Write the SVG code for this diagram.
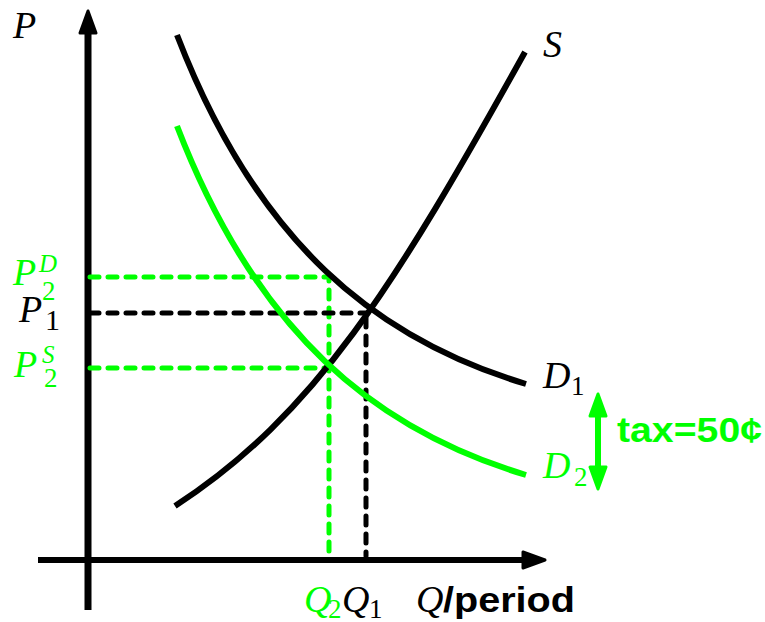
<svg xmlns="http://www.w3.org/2000/svg" width="765" height="622" viewBox="0 0 765 622">
<defs>
<style>
.it{font-family:"Liberation Serif","Times New Roman",serif;font-style:italic;font-size:38px}
.sub{font-family:"Liberation Serif","Times New Roman",serif;font-size:27px}
.supi{font-family:"Liberation Serif","Times New Roman",serif;font-style:italic;font-size:25px}
.bold{font-family:"Liberation Sans",Arial,sans-serif;font-weight:bold;font-size:35px}
.curve{fill:none;stroke-width:6}
.dash{fill:none;stroke-width:5;stroke-dasharray:9 9;stroke-linecap:round}
.head{stroke-width:3;stroke-linejoin:round}
.g{fill:#00ff00}
.k{fill:#000}
</style>
</defs>

<g id="axes">
<line x1="88" y1="610" x2="88" y2="30" stroke="#000" stroke-width="7"/>
<path class="head" d="M88,11 L96,33 L80,33 Z" fill="#000" stroke="#000"/>
<line x1="38" y1="560" x2="528" y2="560" stroke="#000" stroke-width="6"/>
<path class="head" d="M545,560 L523,552 L523,568 Z" fill="#000" stroke="#000"/>
</g>

<g id="guides">
<path class="dash" d="M90,277 H329 V556" stroke="#00ff00"/>
<path class="dash" d="M90,313 H368" stroke="#000"/>
<path class="dash" d="M366,318 V556" stroke="#000"/>
<path class="dash" d="M90,368 H329" stroke="#00ff00"/>
</g>

<g id="curves">
<path id="S" class="curve" stroke="#000" d="M175,506 C315,415 395,286 525,52"/>
<path id="D1" class="curve" stroke="#000" d="M177,35 C257,243 376,339 526,384"/>
<path id="D2" class="curve" stroke="#00ff00" d="M177,126 C257,334 376,430 526,475"/>
</g>

<g id="tax">
<line x1="598" y1="410" x2="598" y2="473" stroke="#00ff00" stroke-width="6"/>
<path class="head" d="M598,394 L606,416 L590,416 Z" fill="#00ff00" stroke="#00ff00"/>
<path class="head" d="M598,489 L606,467 L590,467 Z" fill="#00ff00" stroke="#00ff00"/>
<text class="bold g" x="617" y="442" textLength="145" lengthAdjust="spacingAndGlyphs">tax=50¢</text>
</g>

<g id="labels">
<text class="it k" x="13" y="38">P</text>
<text class="it k" x="543" y="57">S</text>
<text class="it k" x="543" y="388">D</text><text class="sub k" x="571" y="395">1</text>
<text class="it g" x="543" y="478">D</text><text class="sub g" x="574" y="486">2</text>

<text class="it g" x="13" y="285">P</text><text class="supi g" x="39" y="272">D</text><text class="sub g" x="42" y="300">2</text>
<text class="it k" x="19" y="322">P</text><text class="sub k" x="45" y="330" style="font-size:30px">1</text>
<text class="it g" x="14" y="377">P</text><text class="supi g" x="42" y="363">S</text><text class="sub g" x="44" y="387">2</text>

<text class="it g" x="304" y="612">Q</text><text class="sub g" x="328" y="618">2</text>
<text class="it k" x="342" y="612">Q</text><text class="sub k" x="369" y="618">1</text>
<text class="it k" x="416" y="612">Q</text><text class="bold k" x="443" y="612" textLength="132" lengthAdjust="spacingAndGlyphs">/period</text>
</g>
</svg>
